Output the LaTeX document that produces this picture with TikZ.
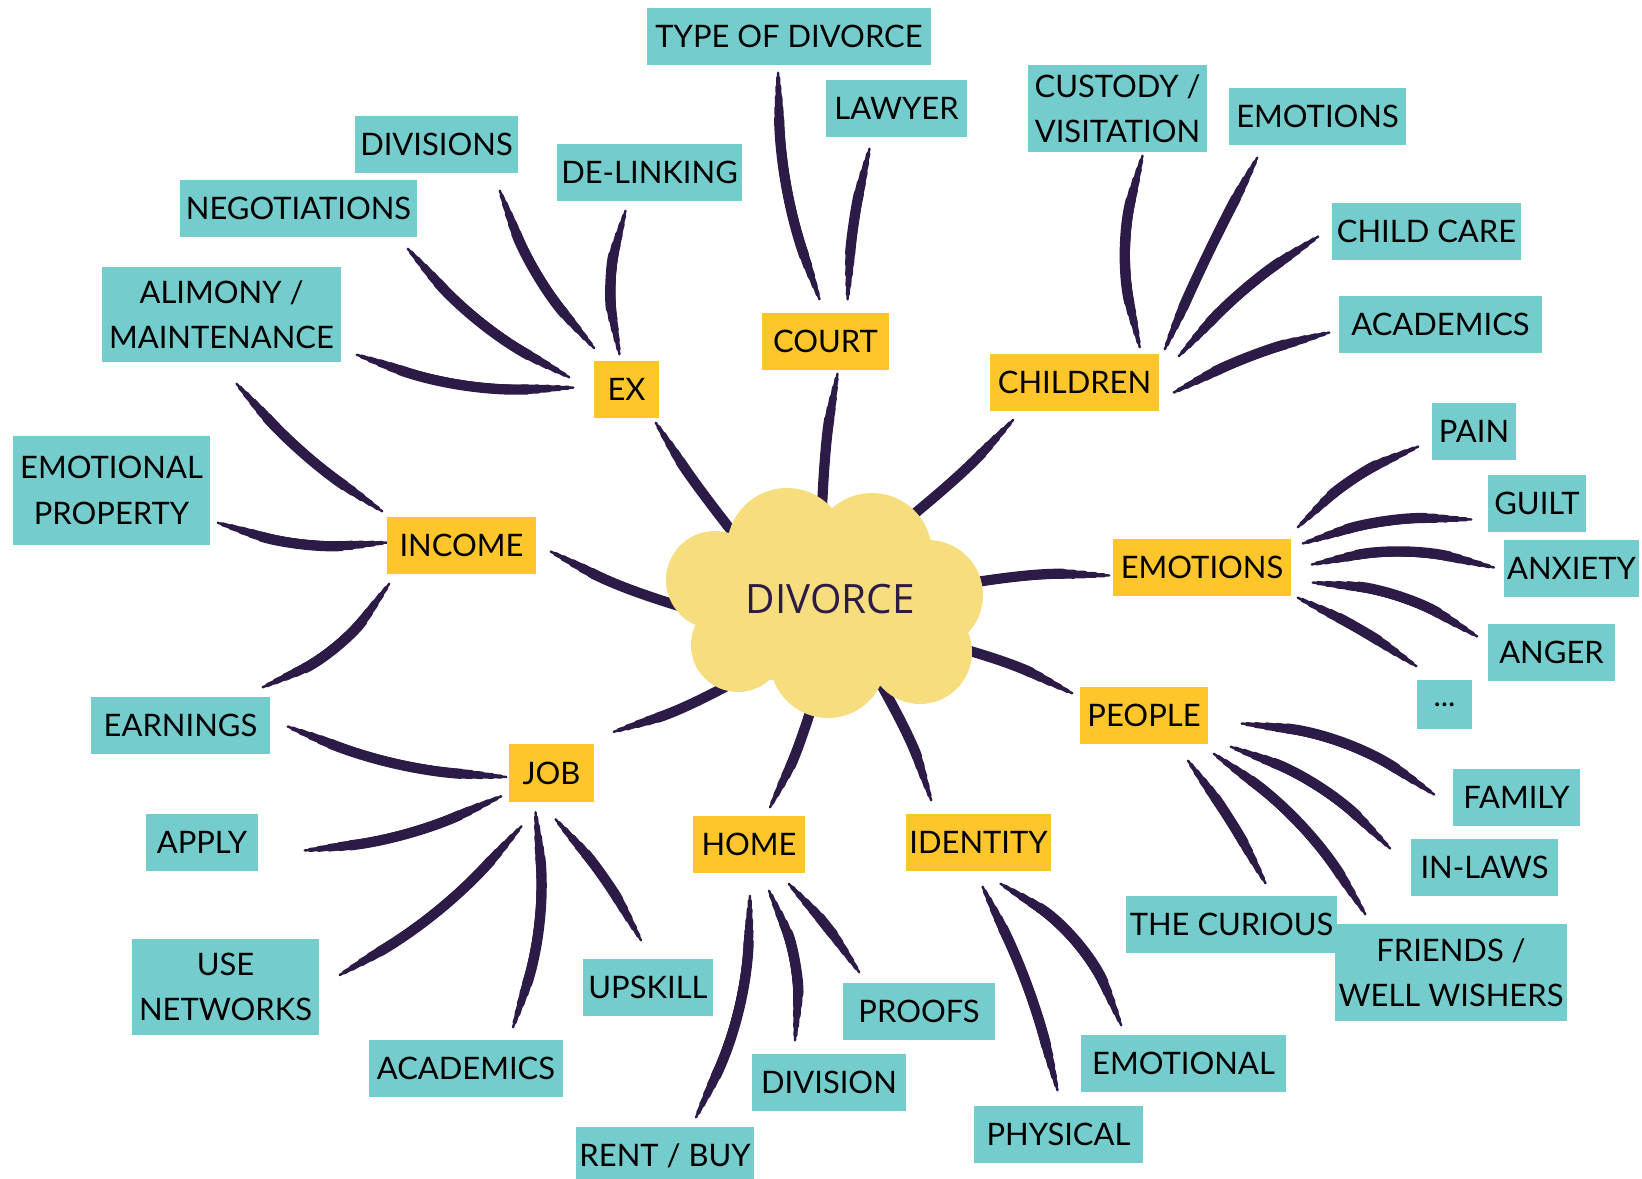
\documentclass[tikz,border=0pt]{standalone}
\usepackage{fontspec}
\setmainfont{Lato}
\newfontfamily\cloudfont{Open Sans}
\usetikzlibrary{shapes.geometric}
\definecolor{LeafTeal}{RGB}{117,204,205}
\definecolor{TopicGold}{RGB}{255,198,44}
\definecolor{CloudYellow}{RGB}{246,221,126}
\definecolor{Ink}{RGB}{45,27,71}
\pgfdeclarelayer{strokes}
\pgfsetlayers{strokes,main}

\begin{document}
\begin{tikzpicture}[x=0.01cm, y=0.01cm]
        \tikzstyle{leaf} = [rectangle, fill=LeafTeal, minimum height=0.57cm, inner sep=1pt, align=center, text=black, font=\fontsize{8.8}{12.9}\selectfont]
        \tikzstyle{topic} = [rectangle, fill=TopicGold, minimum height=0.57cm, inner sep=1pt, text=black, font=\fontsize{8.8}{12.9}\selectfont]
        \tikzstyle{ink} = [draw=Ink, line cap=round]
        \tikzstyle{brush} = [ink, line width=0.7pt,
            postaction={ink, line width=1.2pt, shorten <=1.5pt, shorten >=1.5pt},
            postaction={ink, line width=1.7pt, shorten <=4pt, shorten >=4pt},
            postaction={ink, line width=2.2pt, shorten <=7pt, shorten >=7pt},
            postaction={ink, line width=2.6pt, shorten <=10pt, shorten >=10pt},
            postaction={ink, line width=2.9pt, shorten <=13pt, shorten >=13pt}]
        \tikzstyle{trunk} = [ink, line width=0.7pt,
            postaction={ink, line width=1.2pt, shorten <=1.5pt},
            postaction={ink, line width=1.7pt, shorten <=4pt},
            postaction={ink, line width=2.2pt, shorten <=7pt},
            postaction={ink, line width=2.6pt, shorten <=10pt},
            postaction={ink, line width=2.9pt, shorten <=13pt}]

        \useasboundingbox (0,0) rectangle (1642,-1178);

        % Cloud
        \fill[CloudYellow] (787,-548) circle (60) (872,-553) circle (60) (928,-595) circle (55)
            (920,-652) circle (52) (828,-660) circle (58) (738,-645) circle (47) (715,-580) circle (49)
            (740,-560) rectangle (920,-680);
        \node (divorce) [ellipse, minimum width=2.4cm, minimum height=1.6cm, inner sep=0pt, text=Ink, font=\cloudfont\fontsize{11.5}{14}\selectfont] at (830,-599) {DIVORCE};

        % Topics
        \node (ex) [topic, minimum width=0.65cm] at (626.5,-389.5) {EX};
        \node (court) [topic, minimum width=1.27cm] at (825.5,-341.5) {COURT};
        \node (children) [topic, minimum width=1.69cm] at (1074.5,-382.5) {CHILDREN};
        \node (emotions) [topic, minimum width=1.78cm] at (1202,-567.5) {EMOTIONS};
        \node (people) [topic, minimum width=1.28cm] at (1144,-715.5) {PEOPLE};
        \node (identity) [topic, minimum width=1.45cm] at (978.5,-842.5) {IDENTITY};
        \node (home) [topic, minimum width=1.12cm] at (749,-844.5) {HOME};
        \node (job) [topic, minimum width=0.85cm] at (551.5,-773) {JOB};
        \node (income) [topic, minimum width=1.49cm] at (461.5,-545.5) {INCOME};

        % Leaves
        \node (divisions) [leaf, minimum width=1.63cm] at (436.5,-144.5) {DIVISIONS};
        \node (negotiations) [leaf, minimum width=2.37cm] at (298.5,-208.5) {NEGOTIATIONS};
        \node (alimony) [leaf, minimum width=2.39cm, minimum height=0.95cm] at (221.5,-314.5) {ALIMONY /\\MAINTENANCE};
        \node (delinking) [leaf, minimum width=1.85cm] at (649.5,-172.5) {DE-LINKING};
        \node (typeofdivorce) [leaf, minimum width=2.84cm] at (789,-36.5) {TYPE OF DIVORCE};
        \node (lawyer) [leaf, minimum width=1.41cm] at (896.5,-108.5) {LAWYER};
        \node (custody) [leaf, minimum width=1.79cm, minimum height=0.87cm] at (1117.5,-108.5) {CUSTODY /\\VISITATION};
        \node (kidemotions) [leaf, minimum width=1.77cm] at (1317.5,-116.5) {EMOTIONS};
        \node (childcare) [leaf, minimum width=1.89cm] at (1426.5,-231.5) {CHILD CARE};
        \node (kidacademics) [leaf, minimum width=2.03cm] at (1440.5,-324.5) {ACADEMICS};
        \node (emoproperty) [leaf, minimum width=1.97cm, minimum height=1.09cm] at (111.5,-490.5) {EMOTIONAL\\PROPERTY};
        \node (earnings) [leaf, minimum width=1.79cm] at (180.5,-725.5) {EARNINGS};
        \node (pain) [leaf, minimum width=0.84cm] at (1474,-431.5) {PAIN};
        \node (guilt) [leaf, minimum width=0.98cm] at (1537,-503.5) {GUILT};
        \node (anxiety) [leaf, minimum width=1.35cm] at (1571.5,-568.5) {ANXIETY};
        \node (anger) [leaf, minimum width=1.27cm] at (1551.5,-652.5) {ANGER};
        \node (more) [leaf, minimum width=0.55cm, minimum height=0.49cm] at (1444.5,-704.5) {...};
        \node (family) [leaf, minimum width=1.27cm] at (1516.5,-797.5) {FAMILY};
        \node (inlaws) [leaf, minimum width=1.47cm] at (1484.5,-867.5) {IN-LAWS};
        \node (curious) [leaf, minimum width=2.07cm] at (1231.5,-924.5) {THE CURIOUS};
        \node (friends) [leaf, minimum width=2.24cm, minimum height=0.97cm] at (1451,-972.5) {FRIENDS /\\WELL WISHERS};
        \node (emotional) [leaf, minimum width=2.05cm] at (1183.5,-1063.5) {EMOTIONAL};
        \node (physical) [leaf, minimum width=1.69cm] at (1058.5,-1134.5) {PHYSICAL};
        \node (upskill) [leaf, minimum width=1.30cm] at (648,-987.5) {UPSKILL};
        \node (proofs) [leaf, minimum width=1.52cm] at (919,-1011.5) {PROOFS};
        \node (division) [leaf, minimum width=1.54cm] at (829,-1082.5) {DIVISION};
        \node (rentbuy) [leaf, minimum width=1.78cm] at (665,-1155.5) {RENT / BUY};
        \node (apply) [leaf, minimum width=1.12cm] at (202,-842.5) {APPLY};
        \node (networks) [leaf, minimum width=1.87cm, minimum height=0.96cm] at (225.5,-987) {USE\\NETWORKS};
        \node (jobacademics) [leaf, minimum width=1.94cm] at (466,-1068.5) {ACADEMICS};

        \begin{pgfonlayer}{strokes}
        % Trunks into the cloud
        \draw [trunk] ([shift={(-4,-4)}]ex.south east) to[bend right=3] (divorce.148);
        \draw [trunk] ([shift={(12,-3)}]court.south) to[bend right=4] (divorce.96);
        \draw [trunk] ([shift={(24,-8)}]children.south west) to[bend left=4] (divorce.47);
        \draw [trunk] ([shift={(-3,-8)}]emotions.west) to[bend right=6] (divorce.6);
        \draw [trunk] ([shift={(-7,-7)}]people.north west) to[bend right=6] (divorce.-22);
        \draw [trunk] ([shift={(26,13)}]identity.north west) to[bend right=6] (divorce.-59);
        \draw [trunk] ([shift={(21,8)}]home.north) to[bend right=5] (divorce.-97);
        \draw [trunk] ([shift={(19,12)}]job.north east) to[bend right=6] (divorce.-135);
        \draw [trunk] ([shift={(14,-6)}]income.east) to[bend right=6] (divorce.-172);

        % Ex
        \draw [brush] ([shift={(-19,-17)}]divisions.south east) to[bend right=10] ([shift={(1,12)}]ex.north west);
        \draw [brush] ([shift={(-10,-11)}]negotiations.south east) to[bend right=10] ([shift={(-24,-17)}]ex.north west);
        \draw [brush] ([shift={(15,8)}]alimony.south east) to[bend right=11] ([shift={(-20,2)}]ex.west);
        \draw [brush] ([shift={(-24,-9)}]delinking.south) to[bend right=13] ([shift={(-7,6)}]ex.north);

        % Court
        \draw [brush] ([shift={(-11,-7)}]typeofdivorce.south) to[bend right=9] ([shift={(-6,13)}]court.north);
        \draw [brush] ([shift={(-27,-11)}]lawyer.south) to[bend right=5] ([shift={(22,13)}]court.north);

        % Children
        \draw [brush] ([shift={(25,-3)}]custody.south) to[bend right=14] ([shift={(-20,6)}]children.north east);
        \draw [brush] ([shift={(29,-12)}]kidemotions.south west) to[bend right=2] ([shift={(5,4)}]children.north east);
        \draw [brush] ([shift={(-13,-5)}]childcare.west) to[bend right=7] ([shift={(19,-3)}]children.north east);
        \draw [brush] ([shift={(-9,-8)}]kidacademics.west) to[bend right=6] ([shift={(14,-10)}]children.east);

        % Income
        \draw [brush] ([shift={(15,-21)}]alimony.south) to[bend right=7] ([shift={(-4,5)}]income.north west);
        \draw [brush] ([shift={(7,23)}]emoproperty.south east) to[bend right=11] ([shift={(1,3)}]income.west);
        \draw [brush] ([shift={(-8,9)}]earnings.north east) to[bend right=15] ([shift={(3,-9)}]income.south west);

        % Job
        \draw [brush] ([shift={(17,-1)}]earnings.east) to[bend right=9] ([shift={(-2,-4)}]job.west);
        \draw [brush] ([shift={(46,-8)}]apply.east) to[bend right=9] ([shift={(-7,6)}]job.south west);
        \draw [brush] ([shift={(20,12)}]networks.east) to[bend right=9] ([shift={(-30,-24)}]job.south);
        \draw [brush] ([shift={(47,12)}]jobacademics.north) to[bend right=12] ([shift={(-16,-10)}]job.south);
        \draw [brush] ([shift={(-7,18)}]upskill.north) to[bend right=6] ([shift={(4,-17)}]job.south);

        % Home
        \draw [brush] ([shift={(31,9)}]rentbuy.north) to[bend right=12] ([shift={(1,-22)}]home.south);
        \draw [brush] ([shift={(-34,13)}]division.north) to[bend right=14] ([shift={(20,-17)}]home.south);
        \draw [brush] ([shift={(17,10)}]proofs.north west) to[bend right=4] ([shift={(-17,-10)}]home.south east);

        % Identity
        \draw [brush] ([shift={(-1,15)}]physical.north) to[bend right=6] ([shift={(4,-15)}]identity.south);
        \draw [brush] ([shift={(41,9)}]emotional.north west) to[bend right=18] ([shift={(22,-12)}]identity.south);

        % Emotions
        \draw [brush] ([shift={(-13,-15)}]pain.west) to[bend right=10] ([shift={(6,11)}]emotions.north east);
        \draw [brush] ([shift={(-16,-16)}]guilt.west) to[bend right=10] ([shift={(11,24)}]emotions.east);
        \draw [brush] ([shift={(-9,1)}]anxiety.west) to[bend right=13] ([shift={(20,3)}]emotions.east);
        \draw [brush] ([shift={(-10,16)}]anger.west) to[bend right=13] ([shift={(21,-15)}]emotions.east);
        \draw [brush] ([shift={(-28,13)}]more.north) to[bend right=4] ([shift={(6,-1)}]emotions.south east);

        % People
        \draw [brush] ([shift={(-18,3)}]family.west) to[bend right=14] ([shift={(33,-8)}]people.east);
        \draw [brush] ([shift={(-20,19)}]inlaws.west) to[bend right=12] ([shift={(22,-2)}]people.south east);
        \draw [brush] ([shift={(31,9)}]friends.north west) to[bend right=11] ([shift={(5,-9)}]people.south east);
        \draw [brush] ([shift={(34,12)}]curious.north) to[bend right=4] ([shift={(44,-16)}]people.south);
        \end{pgfonlayer}
    \end{tikzpicture}
\end{document}
